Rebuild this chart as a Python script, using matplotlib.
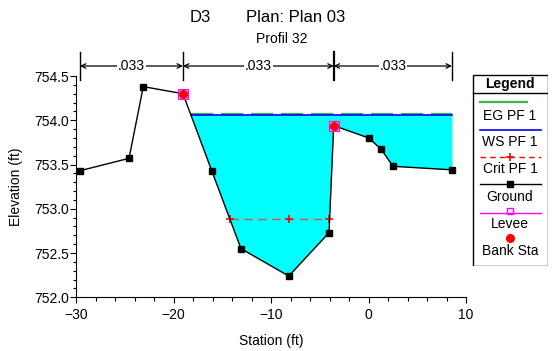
import numpy as np
import matplotlib
matplotlib.use("Agg")
import matplotlib.pyplot as plt
import matplotlib.transforms as mtr
from matplotlib.ticker import MultipleLocator

plt.rcParams['font.family'] = ['Liberation Sans', 'DejaVu Sans']

# Profil 32 - ground and water surface
station = [-29.59, -24.56, -23.10, -19.03, -16.08, -13.08, -8.18, -4.05, -3.57, 0.02, 1.32, 2.51, 8.56]
elev = [753.43, 753.57, 754.38, 754.30, 753.43, 752.55, 752.24, 752.73, 753.94, 753.80, 753.67, 753.48, 753.44]
bank_sta = [-19.03, -3.57]
ws_pf1 = 754.06
eg_pf1 = 754.075
crit_sta = [-14.2, -8.18, -4.05]
crit_pf1 = 752.89
mann_n = [".033", ".033", ".033"]

W, H = 557, 351
fig = plt.figure(figsize=(W/100, H/100), dpi=100)

# main axes, placed in pixels
L, R, T, B = 76, 466, 76, 297.3
ax = fig.add_axes([L/W, 1 - B/H, (R - L)/W, (B - T)/H])

st = np.array(station)
el = np.array(elev)
xx = np.linspace(st[0], st[-1], 4000)
gg = np.interp(xx, st, el)
wet = (gg <= ws_pf1) & (xx >= bank_sta[0])
ax.fill_between(xx, gg, ws_pf1, where=wet, color="#00ffff", lw=0, zorder=1)
x_left = xx[wet].min()

ax.plot([x_left, st[-1]], [eg_pf1, eg_pf1], color="#3cb44b", lw=1.6, dashes=(10, 3.5), zorder=2)
ax.plot([x_left, st[-1]], [ws_pf1, ws_pf1], color="#0000ff", lw=1.2, zorder=3)
ax.plot(crit_sta, [crit_pf1]*len(crit_sta), color="#c05a5a", lw=1, dashes=(6, 4),
        marker="+", mec="red", ms=6, mew=1.2, zorder=4)
ax.plot(st, el, color="black", lw=1, marker="s", ms=4, zorder=5)
bank_el = np.interp(bank_sta, st, el)
ax.plot(bank_sta, bank_el, ls="none", marker="s", ms=6.5, mfc="#ff9cff", mec="#ff00ff", mew=0.8, zorder=6)
ax.plot(bank_sta, bank_el, ls="none", marker="o", ms=5.5, color="red", zorder=7)

ax.set_xlim(-30, 10)
ax.set_ylim(752.0, 754.5)
ax.xaxis.set_major_locator(MultipleLocator(10))
ax.xaxis.set_minor_locator(MultipleLocator(2))
ax.yaxis.set_major_locator(MultipleLocator(0.5))
ax.yaxis.set_minor_locator(MultipleLocator(0.1))
ax.yaxis.set_major_formatter(plt.FuncFormatter(lambda v, p: "%.1f" % v))
ax.spines['top'].set_visible(False)
ax.spines['right'].set_visible(False)
ax.tick_params(axis='both', which='both', direction='out', labelsize=10, width=0.8)
ax.tick_params(axis='y', which='major', length=4.5, pad=0.5)
ax.tick_params(axis='y', which='minor', length=2.5)
ax.tick_params(axis='x', which='major', length=4, pad=3.5)
ax.tick_params(axis='x', which='minor', length=3)
ax.set_xlabel("Station (ft)", fontsize=10, labelpad=9)
ax.set_ylabel("Elevation (ft)", fontsize=10, labelpad=8)

# Manning's n brackets above the plot
trans = mtr.blended_transform_factory(ax.transData, ax.transAxes)
edges = [st[0], bank_sta[0], bank_sta[1], st[-1]]
ya = 1 + (T - 66)/(B - T)
yt0 = 1 + (T - 80)/(B - T)
yt1 = 1 + (T - 52)/(B - T)
for i, e in enumerate(edges):
    ax.plot([e, e], [yt0, yt1], color="black", lw=1.6 if i == 2 else 1, transform=trans, clip_on=False)
for i, n in enumerate(mann_n):
    a, b = edges[i], edges[i+1]
    m = (a + b)/2
    ax.text(m, ya, n, ha="center", va="center", fontsize=10, transform=trans,
            bbox=dict(fc="white", ec="none", pad=0.5), zorder=10)
    for tgt in (a, b):
        ax.annotate("", xy=(tgt, ya), xytext=(m, ya), xycoords=trans, textcoords=trans,
                    arrowprops=dict(arrowstyle="->", lw=0.9, color="black", shrinkA=0, shrinkB=0,
                                    mutation_scale=8), annotation_clip=False)

# titles
fig.text(200/W, 1 - 18/H, "D3", ha="center", va="center", fontsize=12)
fig.text(246/W, 1 - 18/H, "Plan: Plan 03", ha="left", va="center", fontsize=12)
fig.text(282/W, 1 - 39/H, "Profil 32", ha="center", va="center", fontsize=10)

# legend box (drawn in figure pixel coordinates)
lg = fig.add_axes([472/W, 1 - 266/H, 76/W, 192/H])
lg.set_xlim(472, 548)
lg.set_ylim(266, 74)
lg.axis("off")
lg.add_patch(plt.Rectangle((472.5, 74.5), 75, 191, fill=False, ec="black", lw=1))
lg.plot([472.5, 547.5], [93.3, 93.3], color="black", lw=1)
lg.text(510, 84, "Legend", ha="center", va="center", fontsize=10, fontweight="bold")
lg.plot([480, 527], [102, 102], color="#3cb44b", lw=1.6)
lg.text(510, 115.5, "EG PF 1", ha="center", va="center", fontsize=10)
lg.plot([480, 541], [130, 130], color="#0000ff", lw=1.2)
lg.text(510, 142, "WS PF 1", ha="center", va="center", fontsize=10)
lg.plot([480, 541], [157.3, 157.3], color="red", lw=1, dashes=(4, 3))
lg.plot([510], [157.3], marker="+", color="red", ms=6, mew=1.2)
lg.text(510, 169, "Crit PF 1", ha="center", va="center", fontsize=10)
lg.plot([480, 541], [184, 184], color="black", lw=1)
lg.plot([510], [184], marker="s", color="black", ms=4)
lg.text(510, 197, "Ground", ha="center", va="center", fontsize=10)
lg.plot([480, 541], [212.7, 212.7], color="#ff00ff", lw=1)
lg.plot([510], [210.5], marker="s", mfc="none", mec="#ff00ff", ms=4.5, mew=1)
lg.text(510, 224, "Levee", ha="center", va="center", fontsize=10)
lg.plot([510], [238.3], marker="o", color="red", ms=5.5)
lg.text(510, 251, "Bank Sta", ha="center", va="center", fontsize=10)

fig.savefig("out.png", dpi=100)
